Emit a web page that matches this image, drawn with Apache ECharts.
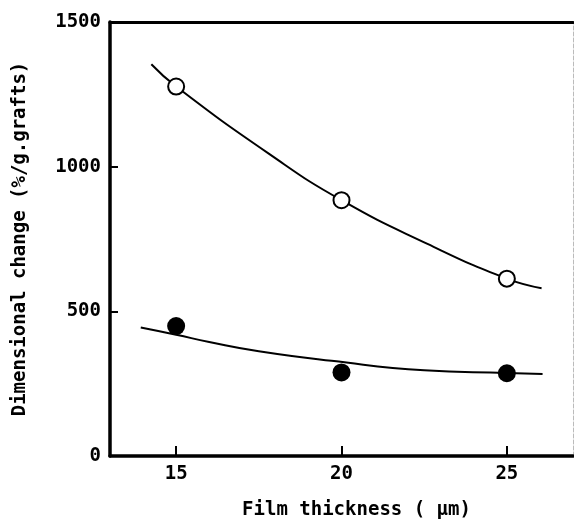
<!DOCTYPE html>
<html>
<head>
<meta charset="utf-8">
<script src="https://cdn.jsdelivr.net/npm/echarts@6/dist/echarts.min.js"></script>
<style>
  html, body { margin: 0; padding: 0; background: #fff; }
  #chart { width: 574px; height: 529px; }
</style>
</head>
<body>
<div id="chart"></div>
<script>
// measured points
const openX = [15, 20, 25];
const openY = [1277, 884, 613];
const filledX = [15, 20, 25];
const filledY = [449, 289, 286];

// fitted curves
const upperCurveX = [14.25, 15, 17.8, 20, 22.6, 25, 26.05];
const upperCurveY = [1354, 1277, 1045, 884, 733, 613, 580];
const lowerCurveX = [13.93, 15, 16, 17.5, 19.7, 22.5, 25, 26.08];
const lowerCurveY = [444, 419, 394, 362, 329, 296, 287, 283];

const xTicks = [15, 20, 25];
const yTicks = [0, 500, 1000, 1500];

const pairs = (xs, ys) => xs.map((x, i) => [x, ys[i]]);
const font = "'DejaVu Sans Mono', monospace";
const textStyle = { fontFamily: font, fontSize: 19, fontWeight: 'bold', color: '#000' };

const chart = echarts.init(document.getElementById('chart'));
chart.setOption({
  animation: false,
  backgroundColor: '#fff',
  grid: { left: 110, right: 1, top: 22, bottom: 73, containLabel: false },
  xAxis: [
    {
      type: 'value',
      min: 13,
      max: 27,
      position: 'bottom',
      name: 'Film thickness ( μm)',
      nameLocation: 'middle',
      nameGap: 45,
      nameTextStyle: Object.assign({}, textStyle, { padding: [0, 0, 0, 30] }),
      splitLine: { show: false },
      axisLine: { show: true, onZero: false, lineStyle: { color: '#000', width: 3.5 } },
      axisTick: { show: true, inside: true, length: 10, customValues: xTicks, lineStyle: { color: '#000', width: 2 } },
      axisLabel: Object.assign({ customValues: xTicks, margin: 9, formatter: v => String(v) }, textStyle)
    },
    {
      type: 'value',
      min: 13,
      max: 27,
      position: 'top',
      splitLine: { show: false },
      axisLine: { show: true, onZero: false, lineStyle: { color: '#000', width: 3 } },
      axisTick: { show: false },
      axisLabel: { show: false }
    }
  ],
  yAxis: [
    {
      type: 'value',
      min: 0,
      max: 1500,
      interval: 500,
      position: 'left',
      name: 'Dimensional change (%/g.grafts)',
      nameLocation: 'middle',
      nameGap: 80,
      nameTextStyle: textStyle,
      splitLine: { show: false },
      axisLine: { show: true, onZero: false, lineStyle: { color: '#000', width: 3.5 } },
      axisTick: { show: true, inside: true, length: 8, customValues: yTicks, lineStyle: { color: '#000', width: 2 } },
      axisLabel: Object.assign({ customValues: yTicks, margin: 9, formatter: v => String(v) }, textStyle)
    },
    {
      type: 'value',
      min: 0,
      max: 1500,
      position: 'right',
      splitLine: { show: false },
      axisLine: { show: true, onZero: false, lineStyle: { color: '#bbb', width: 1, type: 'dashed' } },
      axisTick: { show: false },
      axisLabel: { show: false }
    }
  ],
  series: [
    {
      type: 'line',
      data: pairs(upperCurveX, upperCurveY),
      smooth: true,
      showSymbol: false,
      lineStyle: { color: '#000', width: 2 },
      z: 2
    },
    {
      type: 'line',
      data: pairs(lowerCurveX, lowerCurveY),
      smooth: true,
      showSymbol: false,
      lineStyle: { color: '#000', width: 2 },
      z: 2
    },
    {
      type: 'scatter',
      data: pairs(openX, openY),
      symbol: 'circle',
      symbolSize: 16,
      itemStyle: { color: '#fff', borderColor: '#000', borderWidth: 2, opacity: 1 },
      z: 3
    },
    {
      type: 'scatter',
      data: pairs(filledX, filledY),
      symbol: 'circle',
      symbolSize: 18,
      itemStyle: { color: '#000', opacity: 1 },
      z: 3
    }
  ]
});
</script>
</body>
</html>
